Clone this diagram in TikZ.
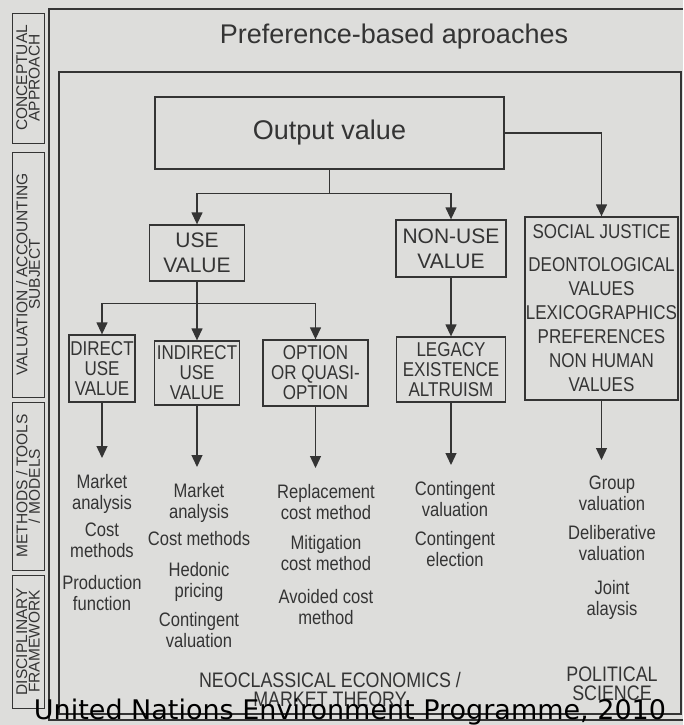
\documentclass[tikz,border=0pt]{standalone}
\usepackage{fontspec}
\setmainfont{Liberation Sans}
\newfontfamily\narrowfont[FakeStretch=0.85]{Liberation Sans}
\newfontfamily\notefont{DejaVu Sans}
\usetikzlibrary{arrows.meta}
\definecolor{paper}{RGB}{221,221,219}
\definecolor{ink}{RGB}{52,52,52}
\tikzset{
	boxstyle/.style={rectangle,draw=ink,line width=1.3pt,text=ink,align=center,inner sep=0pt},
	outputstyle/.style={boxstyle,font=\fontsize{27}{30}\selectfont},
	valuestyle/.style={boxstyle,font=\fontsize{21}{25}\selectfont},
	subvaluestyle/.style={boxstyle,font=\narrowfont\fontsize{20}{20}\selectfont},
	methodstyle/.style={text=ink,align=center,inner sep=0pt,outer ysep=16pt,anchor=north,font=\narrowfont\fontsize{19.5}{21}\selectfont},
	fieldstyle/.style={text=ink,align=center,font=\narrowfont\fontsize{21}{19}\selectfont},
	sidestyle/.style={rectangle,draw=ink,line width=0.9pt,rotate=90,text=ink,align=center,inner sep=0pt,minimum height=32pt,font=\fontsize{15.5}{12.5}\selectfont},
	framestyle/.style={draw=ink,line width=1.2pt},
	arrowstyle/.style={draw=ink,line width=1.3pt,-{Stealth[inset=0pt,length=12pt,width=11pt]}}
}
\begin{document}
\begin{tikzpicture}[x=1pt,y=-1pt]
		\fill[paper] (0,0) rectangle (683,725);
		\useasboundingbox (0,0) rectangle (683,725);
		% frames
		\draw[framestyle] (683,9) -- (49,9) -- (49,720) -- (683,720);
		\draw[framestyle] (59,72) rectangle (681,714);
		% side labels
		\node[sidestyle,minimum width=130pt] (s1) at (28,78) {CONCEPTUAL\\APPROACH};
		\node[sidestyle,minimum width=245pt] (s2) at (28,274.5) {VALUATION / ACCOUNTING\\SUBJECT};
		\node[sidestyle,minimum width=168pt] (s3) at (28,486) {METHODS / TOOLS\\/ MODELS};
		\node[sidestyle,minimum width=133pt] (s4) at (28,641.5) {DISCIPLINARY\\FRAMEWORK};
		\node[text=ink,font=\fontsize{27}{30}\selectfont] (title) at (394,37) {Preference-based aproaches};
		% value boxes
		\node[outputstyle,minimum width=349pt,minimum height=72pt] (out) at (329.5,133) {Output value};
		\node[valuestyle,minimum width=95pt,minimum height=56pt] (use) at (197,253) {USE\\VALUE};
		\node[valuestyle,minimum width=110pt,minimum height=57pt] (nonuse) at (451,248.5) {NON-USE\\VALUE};
		\node[subvaluestyle,font=\narrowfont\fontsize{20}{24}\selectfont,minimum width=153pt,minimum height=183pt] (social) at (601.5,308.5) {SOCIAL JUSTICE\\[9pt]DEONTOLOGICAL\\VALUES\\LEXICOGRAPHICS\\PREFERENCES\\NON HUMAN\\VALUES};
		\node[subvaluestyle,minimum width=66pt,minimum height=67pt] (direct) at (102,368.5) {DIRECT\\USE\\VALUE};
		\node[subvaluestyle,minimum width=85pt,minimum height=64pt] (indirect) at (197,373) {INDIRECT\\USE\\VALUE};
		\node[subvaluestyle,minimum width=105pt,minimum height=66pt] (option) at (315.5,373) {OPTION\\OR QUASI-\\OPTION};
		\node[subvaluestyle,minimum width=109pt,minimum height=65pt] (legacy) at (451,369.5) {LEGACY\\EXISTENCE\\ALTRUISM};
		% methods
		\node[methodstyle] (m1) at (102,458) {Market\\analysis\\[6pt]Cost\\methods\\[11pt]Production\\function};
		\node[methodstyle] (m2) at (199,467) {Market\\analysis\\[6pt]Cost methods\\[10pt]Hedonic\\pricing\\[8pt]Contingent\\valuation};
		\node[methodstyle] (m3) at (326,468) {Replacement\\cost method\\[9pt]Mitigation\\cost method\\[12pt]Avoided cost\\method};
		\node[methodstyle] (m4) at (455,465) {Contingent\\valuation\\[8pt]Contingent\\election};
		\node[methodstyle] (m5) at (612,460) {Group\\valuation\\[8pt]Deliberative\\valuation\\[13pt]Joint\\alaysis};
		\node[fieldstyle] (neo) at (330,689) {NEOCLASSICAL ECONOMICS /\\MARKET THEORY};
		\node[fieldstyle] (pol) at (612,684) {POLITICAL\\SCIENCE};
		% connectors
		\draw[arrowstyle] (out.south) -- ++(0,24) -| (use.north);
		\draw[arrowstyle] (out.south) ++(0,24) -| (nonuse.north);
		\draw[arrowstyle] (out.east) -| (social.north);
		\draw[arrowstyle] (use.south) -- ++(0,22) -| (direct.north);
		\draw[arrowstyle] (use) -- (indirect);
		\draw[arrowstyle] (use.south) ++(0,22) -| (option.north);
		\draw[arrowstyle] (nonuse) -- (legacy);
		\draw[arrowstyle] (direct.south) -- (direct.south |- m1.north);
		\draw[arrowstyle] (indirect.south) -- (indirect.south |- m2.north);
		\draw[arrowstyle] (option.south) -- (option.south |- m3.north);
		\draw[arrowstyle] (legacy.south) -- (legacy.south |- m4.north);
		\draw[arrowstyle] (social.south) -- (social.south |- m5.north);
		\node[font=\notefont\fontsize{27}{30}\selectfont,text=black,anchor=base] (note) at (350,719) {United Nations Environment Programme, 2010};
\end{tikzpicture}
\end{document}
